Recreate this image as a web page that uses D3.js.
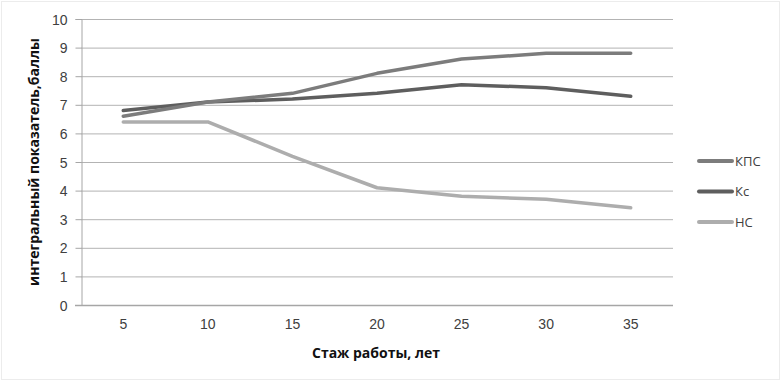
<!DOCTYPE html>
<html>
<head>
<meta charset="utf-8">
<style>
    body { margin: 0; background: #fff; }
    svg { display: block; font-family: 'Open Sans', 'Noto Sans', sans-serif; }
    .tick text { font-size: 14px; fill: #404040; }
    .axis-title { font-size: 14px; font-weight: bold; fill: #111; }
    .legend text { font-size: 13px; fill: #404040; }
</style>
</head>
<body>
<svg width="782" height="383"></svg>
<script src="https://d3js.org/d3.v7.min.js"></script>
<script>
    // стаж работы, лет
    let years = [5, 10, 15, 20, 25, 30, 35]
    let kps = [6.6, 7.1, 7.4, 8.1, 8.6, 8.8, 8.8]
    let ks = [6.8, 7.1, 7.2, 7.4, 7.7, 7.6, 7.3]
    let ns = [6.4, 6.4, 5.2, 4.1, 3.8, 3.7, 3.4]
    let yTicks = [0, 1, 2, 3, 4, 5, 6, 7, 8, 9, 10]

    let series = [
        { name: "КПС", values: kps, color: "#7c7c7c" },
        { name: "Кс", values: ks, color: "#5e5e5e" },
        { name: "НС", values: ns, color: "#adadad" }
    ]

    let svg = d3.select("svg")

    // faint outer frame
    svg.append("rect")
        .attr("x", 1.5).attr("y", 1.5)
        .attr("width", 778).attr("height", 378)
        .style("fill", "none")
        .style("stroke", "#ececec")

    let plotLeft = 81, plotRight = 673, plotTop = 19, plotBottom = 305

    let x = d3.scaleBand()
        .domain(years)
        .range([plotLeft, plotRight])

    let y = d3.scaleLinear()
        .domain([0, 10])
        .range([plotBottom, plotTop])

    // gridlines
    svg.append("g")
        .selectAll("line")
        .data(yTicks)
        .join("line")
        .attr("x1", plotLeft)
        .attr("x2", plotRight)
        .attr("y1", d => y(d) + 0.5)
        .attr("y2", d => y(d) + 0.5)
        .style("stroke", "#b3b3b3")
        .style("stroke-width", 1)

    // y axis
    let yAxis = svg.append("g")
        .attr("transform", `translate(${plotLeft + 0.5},0)`)
        .call(d3.axisLeft(y).tickValues(yTicks).tickSize(6).tickPadding(8))
    yAxis.select(".domain").style("stroke", "#a6a6a6")
    yAxis.selectAll(".tick line").style("stroke", "#a6a6a6")
    yAxis.selectAll(".tick text").attr("dy", "0.36em")

    // x axis (no tick marks)
    let xAxis = svg.append("g")
        .attr("transform", `translate(0,${plotBottom + 0.5})`)
        .call(d3.axisBottom(x).tickSize(0).tickPadding(14))
    xAxis.select(".domain").style("stroke", "#a6a6a6").style("stroke-width", 1.5)
        .attr("d", `M${plotLeft - 6},0H${plotRight}`)

    let line = d3.line()
        .x((d, i) => x(years[i]) + x.bandwidth() / 2)
        .y(d => y(d))

    // draw lightest first so darker lines sit on top
    svg.append("g")
        .selectAll("path")
        .data(series.slice().reverse())
        .join("path")
        .attr("d", d => line(d.values))
        .style("fill", "none")
        .style("stroke", d => d.color)
        .style("stroke-width", 3.5)
        .style("stroke-linecap", "round")
        .style("stroke-linejoin", "round")

    // axis titles
    svg.append("text")
        .attr("class", "axis-title")
        .attr("x", 376)
        .attr("y", 358)
        .attr("text-anchor", "middle")
        .text("Стаж работы, лет")

    svg.append("text")
        .attr("class", "axis-title")
        .attr("transform", "translate(39,162) rotate(-90)")
        .attr("text-anchor", "middle")
        .text("интегральный показатель,баллы")

    // legend
    let legend = svg.append("g")
        .attr("class", "legend")
        .selectAll("g")
        .data(series)
        .join("g")
        .attr("transform", (d, i) => `translate(699,${161 + i * 30.5})`)

    legend.append("line")
        .attr("x1", 0).attr("x2", 33)
        .style("stroke", d => d.color)
        .style("stroke-width", 4)
        .style("stroke-linecap", "round")

    legend.append("text")
        .attr("x", 36)
        .attr("dy", "0.36em")
        .text(d => d.name)
</script>
</body>
</html>
